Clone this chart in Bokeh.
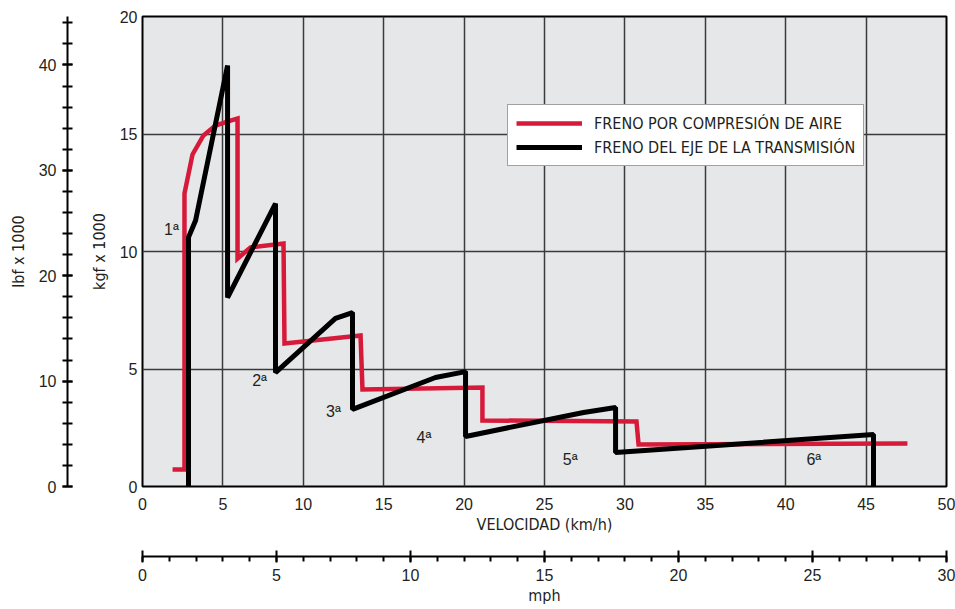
from bokeh.plotting import figure
from bokeh.models import (Range1d, LinearAxis, SingleIntervalTicker, FixedTicker,
                          Legend, LegendItem)
from bokeh.core.properties import value
from bokeh.embed import file_html
from bokeh.resources import INLINE

# ---- data ----
air_speed = [1.87, 2.61, 2.61, 3.11, 3.79, 4.54, 5.47, 5.91, 5.91, 6.72, 8.77, 8.83,
             13.56, 13.68, 21.14, 21.14, 30.72, 30.85, 47.57]
air_force = [0.72, 0.72, 12.47, 14.13, 14.94, 15.36, 15.57, 15.66, 9.70, 10.17, 10.34, 6.09,
             6.43, 4.13, 4.21, 2.81, 2.77, 1.79, 1.83]
shaft_speed = [2.86, 2.86, 3.30, 5.29, 5.29, 8.27, 8.27, 12.00, 13.06, 13.06, 18.22, 20.09,
               20.09, 27.43, 29.42, 29.42, 45.46, 45.46]
shaft_force = [0.0, 10.60, 11.32, 17.91, 8.04, 12.04, 4.85, 7.15, 7.40, 3.28, 4.64, 4.89,
               2.13, 3.15, 3.36, 1.45, 2.21, 0.0]
gear_labels = ["1ª", "2ª", "3ª", "4ª", "5ª", "6ª"]
gear_x = [1.8, 7.28, 11.88, 17.5, 26.6, 41.75]
gear_y = [10.94, 4.51, 3.19, 2.09, 1.17, 1.13]
series_names = ["FRENO POR COMPRESIÓN DE AIRE", "FRENO DEL EJE DE LA TRANSMISIÓN"]

RED = "#d71a3a"
INK = "#231f20"
NUM_FONT = "Liberation Sans"
COND_FONT = "Liberation Sans Narrow, DejaVu Sans Condensed, Liberation Sans"

p = figure(width=955, height=609, output_backend="svg", toolbar_location=None,
           x_range=Range1d(0, 50), y_range=Range1d(0, 20),
           min_border_left=142, min_border_right=9, min_border_top=16, min_border_bottom=123,
           background_fill_color="#e6e7e8", border_fill_color="white",
           outline_line_color="black", outline_line_width=2)
p.extra_y_ranges = {"lbf": Range1d(0, 44.6)}
p.extra_x_ranges = {"mph": Range1d(0, 30)}

# grids
p.xaxis.ticker = SingleIntervalTicker(interval=5, num_minor_ticks=0)
p.yaxis.ticker = SingleIntervalTicker(interval=5, num_minor_ticks=0)
for g in (p.xgrid, p.ygrid):
    g.grid_line_color = "#3a3a3a"
    g.grid_line_width = 1.5

# km/h axis
xa = p.xaxis[0]
xa.major_tick_out = 0
xa.major_tick_in = 0
xa.minor_tick_out = 0
xa.axis_line_color = None
xa.major_label_standoff = 11
xa.major_label_text_font = NUM_FONT
xa.major_label_text_font_size = "16px"
xa.major_label_text_color = INK
xa.axis_label = "VELOCIDAD (km/h)"
xa.axis_label_text_font = COND_FONT
xa.axis_label_text_font_size = "16px"
xa.axis_label_text_font_style = "normal"
xa.axis_label_text_color = INK
xa.axis_label_standoff = 2

# kgf axis
ya = p.yaxis[0]
ya.major_tick_out = 0
ya.major_tick_in = 0
ya.minor_tick_out = 0
ya.axis_line_color = None
ya.major_label_standoff = 5
ya.major_label_text_font = NUM_FONT
ya.major_label_text_font_size = "16px"
ya.major_label_text_color = INK
ya.axis_label = "kgf x 1000"
ya.axis_label_text_font = COND_FONT
ya.axis_label_text_font_size = "16px"
ya.axis_label_text_font_style = "normal"
ya.axis_label_text_color = INK
ya.axis_label_standoff = 8

# spacer between kgf and lbf axes
sp_left = LinearAxis(y_range_name="lbf", ticker=FixedTicker(ticks=[]), axis_line_color=None,
                     major_tick_out=0, major_tick_in=0, minor_tick_out=0, minor_tick_in=0,
                     axis_label=" ", axis_label_standoff=5, axis_label_text_font_size="10px")
p.add_layout(sp_left, "left")

# lbf axis
lbf = LinearAxis(y_range_name="lbf", ticker=SingleIntervalTicker(interval=10, num_minor_ticks=5),
                 axis_line_width=2, axis_line_color="black",
                 major_tick_in=5, major_tick_out=5, minor_tick_in=5, minor_tick_out=5,
                 major_tick_line_width=2, minor_tick_line_width=2,
                 major_tick_line_color="black", minor_tick_line_color="black",
                 major_label_standoff=6, major_label_text_font=NUM_FONT,
                 major_label_text_font_size="16px", major_label_text_color=INK,
                 axis_label="lbf x 1000", axis_label_text_font=COND_FONT,
                 axis_label_text_font_size="16px", axis_label_text_font_style="normal",
                 axis_label_text_color=INK, axis_label_standoff=8)
p.add_layout(lbf, "left")

# spacer between km/h and mph axes
sp_bottom = LinearAxis(x_range_name="mph", ticker=FixedTicker(ticks=[]), axis_line_color=None,
                       major_tick_out=0, major_tick_in=0, minor_tick_out=0, minor_tick_in=0,
                       axis_label=" ", axis_label_standoff=6, axis_label_text_font_size="10px")
p.add_layout(sp_bottom, "below")

# mph axis
mph = LinearAxis(x_range_name="mph", ticker=SingleIntervalTicker(interval=5, num_minor_ticks=5),
                 axis_line_width=2, axis_line_color="black",
                 major_tick_in=6, major_tick_out=6, minor_tick_in=0, minor_tick_out=5,
                 major_tick_line_width=2, minor_tick_line_width=2,
                 major_tick_line_color="black", minor_tick_line_color="black",
                 major_label_standoff=6, major_label_text_font=NUM_FONT,
                 major_label_text_font_size="16px", major_label_text_color=INK,
                 axis_label="mph", axis_label_text_font=COND_FONT,
                 axis_label_text_font_size="16px", axis_label_text_font_style="normal",
                 axis_label_text_color=INK, axis_label_standoff=2)
p.add_layout(mph, "below")

# curves
r_air = p.line(air_speed, air_force, line_color=RED, line_width=4.5, line_join="miter")
r_shaft = p.line(shaft_speed, shaft_force, line_color="black", line_width=5, line_join="bevel")

# gear labels
p.text(gear_x, gear_y, text=gear_labels, text_font=value(NUM_FONT), text_font_size="16px",
       text_color=INK, text_align="center", text_baseline="middle")

legend = Legend(items=[LegendItem(label=series_names[0], renderers=[r_air]),
                       LegendItem(label=series_names[1], renderers=[r_shaft])],
                location=(365, 320), orientation="vertical",
                padding=8, margin=0, spacing=4, glyph_width=66, glyph_height=20,
                label_height=20, label_standoff=12,
                label_text_font=COND_FONT, label_text_font_size="16px", label_text_color=INK,
                background_fill_color="white", background_fill_alpha=1,
                border_line_color="#444444", border_line_width=1.5)
p.add_layout(legend, "center")

open("out.html", "w").write(file_html(p, INLINE))
